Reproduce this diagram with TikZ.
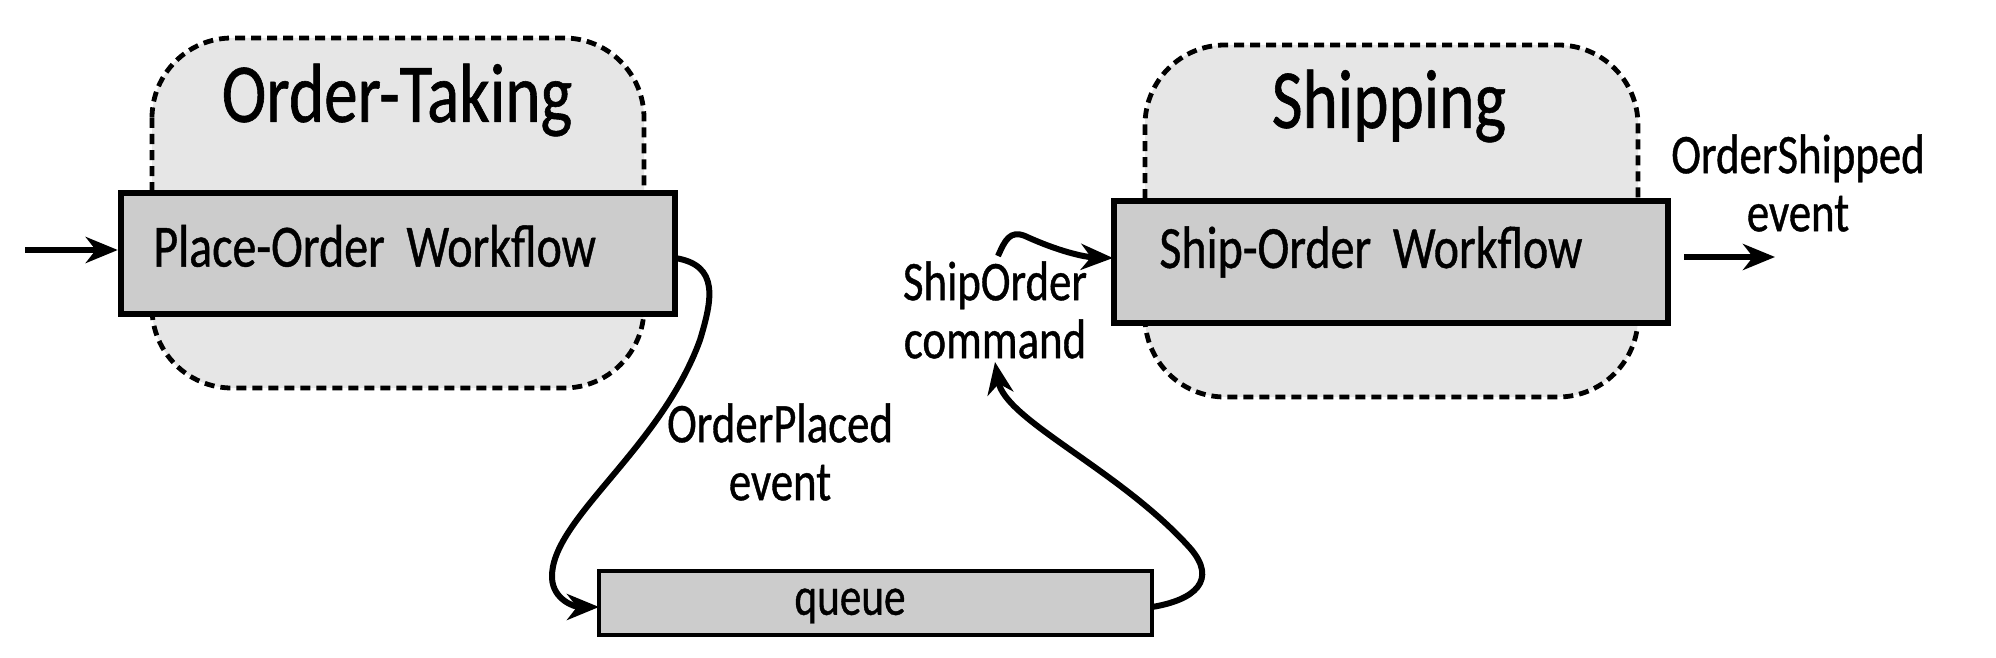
\documentclass[tikz,border=0pt]{standalone}
\usepackage{fontspec}
\setmainfont{Carlito}[FakeStretch=0.8,FakeBold=0.7]
\usetikzlibrary{arrows.meta}
\definecolor{ctxfill}{HTML}{E6E6E6}
\definecolor{boxfill}{HTML}{CCCCCC}
\tikzset{
  context/.style={draw=black, line width=2.4pt, dash pattern=on 5pt off 3pt, fill=ctxfill, rounded corners=40pt},
  wfbox/.style={draw=black, line width=3.2pt, fill=boxfill},
  qbox/.style={draw=black, line width=2.4pt, fill=boxfill},
  flow/.style={line width=3pt, -{Stealth[length=16pt,width=13pt,inset=5pt]}},
  lbl/.style={align=center, inner sep=0pt, font=\fontsize{28}{29}\selectfont},
  wftext/.style={inner sep=0pt, anchor=west, font=\fontsize{30}{30}\selectfont},
  title/.style={inner sep=0pt, font=\fontsize{42}{42}\selectfont}
}
\begin{document}
\begin{tikzpicture}[x=0.5pt,y=-0.5pt]
\useasboundingbox (0,0) rectangle (1996,658);
% contexts
\draw[context] (152,38) rectangle (644,388);
\draw[context] (1145,45) rectangle (1638,397);
\node[title] (tOT) at (397,100) {Order-Taking};
\node[title] (tSH) at (1389,106) {Shipping};
% workflow boxes
\node[wfbox, minimum width=277pt, minimum height=60.5pt, inner sep=0pt] (po) at (398,253.5) {};
\node[wftext] (potext) at (153,246) {Place-Order\ \ Workflow};
\node[wfbox, minimum width=277pt, minimum height=61pt, inner sep=0pt] (so) at (1391,262) {};
\node[wftext] (sotext) at (1159,252) {Ship-Order\ \ Workflow};
% queue
\node[qbox, minimum width=276.5pt, minimum height=32pt, inner sep=0pt] (q) at (875.5,603) {};
\node[inner sep=0pt, font=\fontsize{27}{27}\selectfont] (qtext) at (850,606) {queue};
% labels
\node[lbl] (evplaced) at (780,452) {OrderPlaced\\event};
\node[lbl] (cmd) at (995,310) {ShipOrder\\command};
\node[lbl] (evshipped) at (1798,183) {OrderShipped\\event};
% in / out
\coordinate (inStart) at (25,250);
\coordinate (outEnd) at (1775,257);
\draw[flow] (inStart) -- (po.west |- inStart);
\draw[flow] (so.east |- outEnd) ++(13,0) coordinate (outStart) -- (outEnd);
% curves
\coordinate (poOut) at (675,258);
\coordinate (qIn) at (599,607);
\coordinate (qOut) at (1152,607);
\coordinate (cmdIn) at (995,362);
\coordinate (cmdOut) at (998,256);
\coordinate (soIn) at (1113,258);
\draw[flow] (poOut) .. controls (720,265) and (712,300) .. (700,340)
  .. controls (660,450) and (550,520) .. (552,578)
  .. controls (553,600) and (575,607) .. (qIn);
\draw[flow] (qOut) .. controls (1195,600) and (1218,580) .. (1190,548)
  .. controls (1120,470) and (1005,420) .. (cmdIn);
\draw[flow] (cmdOut) .. controls (1005,240) and (1010,230) .. (1025,236)
  .. controls (1060,252) and (1085,257) .. (soIn);
\end{tikzpicture}
\end{document}
